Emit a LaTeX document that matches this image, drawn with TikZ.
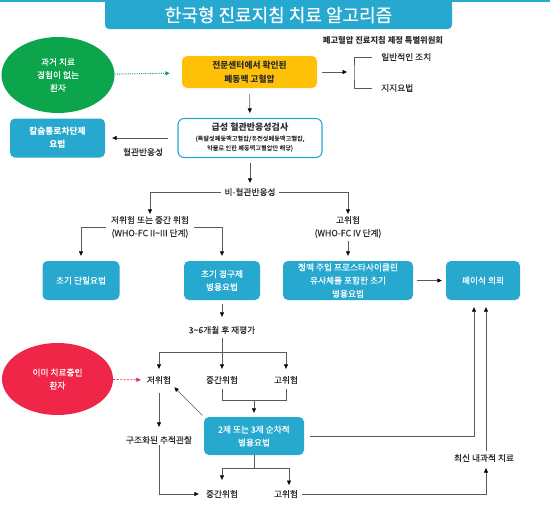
\documentclass[tikz,border=0pt]{standalone}
\usepackage{fontspec}
\setmainfont{Noto Sans CJK KR}[UprightFeatures={FakeBold=0.3}]
\usetikzlibrary{arrows.meta,shapes.geometric}
\definecolor{tealc}{HTML}{27A8CF}
\definecolor{greenc}{HTML}{0CA54B}
\definecolor{redc}{HTML}{EF2648}
\definecolor{yellowc}{HTML}{FFC107}
\definecolor{linec}{HTML}{5A5A5A}
\definecolor{txtc}{HTML}{2E2E2E}
\newcommand{\fs}[2]{\fontsize{#1}{#2}\selectfont}
\begin{document}
\begin{tikzpicture}[x=1pt,y=-1pt,
  font=\fs{8.7}{12}, text=txtc,
  ln/.style={draw=linec, line width=0.6pt},
  arr/.style={ln, -{Triangle[length=4.5pt,width=4pt,color=black]}},
  tbox/.style={fill=tealc, rounded corners=5pt, text=white, align=center, minimum height=39pt, inner sep=1pt, font=\fs{8.7}{13}},
  lbl/.style={align=center, inner sep=1pt, font=\fs{8.7}{13}},
  blob/.style={ellipse, text=white, align=center, inner sep=0pt, font=\fs{8.7}{13}}]

\useasboundingbox (0,0) rectangle (550,506);
\fill[tealc] (0,0) rectangle (550,1.5);
\node[fill=tealc, rounded corners=4pt, minimum width=347pt, minimum height=36pt] (titlebar) at (278.5,11) {};
\node[text=white, font=\fs{18}{20}] (title) at (278.5,15) {한국형 진료지침 치료 알고리즘};
\node[font=\fs{8.3}{9}\bfseries, inner sep=1pt] (committee) at (383,40) {폐고혈압 진료지침 제정 특별위원회};

% top section
\node[blob, fill=greenc, minimum width=113pt, minimum height=76pt] (naive) at (58,75) {과거 치료\\경험이 없는\\환자};
\node[fill=yellowc, rounded corners=5pt, minimum width=135pt, minimum height=32pt, align=center, font=\fs{8.7}{14}\bfseries] (confirmed) at (249.5,72) {전문센터에서 확인된\\폐동맥 고혈압};
\draw[draw=greenc, line width=1pt, dash pattern=on 1pt off 1.2pt, -{Triangle[length=4.5pt,width=4pt,color=greenc]}, shorten >=12pt] (naive) -- (confirmed);

\coordinate (brk) at (354,72);
\node[lbl, anchor=west] (general) at (380,57) {일반적인 조치};
\node[lbl, anchor=west] (support) at (380,88) {지지요법};
\draw[arr, shorten <=5pt, shorten >=7pt] (confirmed) -- (brk);
\draw[ln] ([xshift=-8pt]general.west) -| (brk) |- ([xshift=-8pt]support.west);

\node[draw=tealc, line width=1.1pt, fill=white, rounded corners=6pt, minimum width=144pt, minimum height=39pt] (vrtest) at (250,138) {};
\node[font=\fs{9}{12}\bfseries, inner sep=0pt] (vrtitle) at (250,127) {급성 혈관반응성검사};
\node[font=\fs{6.2}{9.5}, align=center, inner sep=0pt] (vrnote) at (250,143.5) {(특발성폐동맥고혈압/유전성폐동맥고혈압,\\약물로 인한 폐동맥고혈압만 해당)};
\draw[arr, shorten <=6pt, shorten >=5pt] (confirmed) -- (vrtest);

\node[tbox, minimum width=95pt, font=\fs{8.7}{13}\bfseries] (ccb) at (57.5,138) {칼슘통로차단제\\요법};
\draw[arr, shorten <=9pt, shorten >=7pt] (vrtest) -- (ccb);
\node[lbl] (vrpos) at (143,152) {혈관반응성};

% non-responders
\node[lbl, inner xsep=3pt] (nonvr) at (250,192) {비-혈관반응성};
\draw[arr, shorten <=5pt, shorten >=4pt] (vrtest) -- (nonvr);
\node[lbl, inner xsep=5pt] (lowmid) at (150,227) {저위험 또는 중간 위험\\(WHO-FC II\textasciitilde III 단계)};
\node[lbl] (high) at (348,227) {고위험\\(WHO-FC IV 단계)};
\draw[arr, shorten >=1pt] (nonvr.west) -| (lowmid);
\draw[arr, shorten >=1pt] (nonvr.east) -| (high);

\node[tbox, minimum width=77pt] (mono) at (81,280.5) {초기 단일요법};
\node[tbox, minimum width=76pt] (oral) at (222,280.5) {초기 경구제\\병용요법};
\node[tbox, minimum width=130pt, inner sep=0pt, font=\fs{8.7}{13.2}] (iv) at (348,280.5) {정맥 주입 프로스타사이클린\\유사체를 포함한 초기\\병용요법};
\node[tbox, minimum width=74pt] (lung) at (483,280.5) {폐이식 의뢰};
\draw[arr, shorten >=5pt] (lowmid.west) -| (mono);
\draw[arr, shorten >=5pt] (lowmid.east) -| (oral);
\draw[arr, shorten <=2pt, shorten >=5pt] (high) -- (iv);
\draw[arr, shorten <=4pt, shorten >=4pt] (iv) -- (lung);

% reassessment
\node[lbl] (reeval) at (222,330) {3\textasciitilde 6개월 후 재평가};
\draw[arr, shorten <=4pt, shorten >=8pt] (oral) -- (reeval);
\coordinate (split) at (222,352);
\node[lbl] (low1) at (159,380) {저위험};
\node[lbl] (mid1) at (222,380) {중간위험};
\node[lbl] (high1) at (286,380) {고위험};
\draw[arr, shorten <=3pt, shorten >=6pt] (reeval) -- (mid1);
\draw[arr, shorten >=6pt] (split) -| (low1);
\draw[arr, shorten >=6pt] (split) -| (high1);

\node[blob, fill=redc, minimum width=111pt, minimum height=72pt] (treated) at (57.5,379) {이미 치료중인\\환자};
\draw[draw=redc, line width=0.7pt, dash pattern=on 2pt off 1.5pt, -{Triangle[length=4.5pt,width=4pt,color=redc]}, shorten >=5pt] (treated) -- (low1);

\node[tbox, minimum width=100pt, minimum height=38pt] (combo) at (254,436) {2제 또는 3제 순차적\\병용요법};
\coordinate (join) at (254,400);
\draw[ln, shorten <=4pt] (mid1.south) |- (join);
\draw[ln, shorten <=4pt] (high1.south) |- (join);
\draw[arr, shorten >=4pt] (join) -- (combo);
\draw[arr, shorten <=2pt, shorten >=3pt] (combo.north west) -- (low1.south east);

\node[lbl] (follow) at (159,440) {구조화된 추적관찰};
\draw[arr, shorten <=8pt, shorten >=8pt] (low1) -- (follow);

\node[lbl] (mid2) at (222,494) {중간위험};
\node[lbl] (high2) at (286,494) {고위험};
\node[lbl] (latest) at (484,458) {최신 내과적 치료};
\draw[arr, shorten >=6pt] (follow) |- (mid2);
\coordinate (split2) at (254,468);
\draw[ln] (combo) -- (split2);
\draw[arr, shorten >=9pt] (split2) -| (mid2);
\draw[arr, shorten >=9pt] (split2) -| ([xshift=3pt]high2.center);

\draw[arr, shorten <=6pt, shorten >=7pt] (combo.east) -| ([xshift=-9pt]lung.south);
\draw[arr, shorten <=3pt, shorten >=5pt] (high2.east) -| ([xshift=2pt]latest.south);
\draw[arr, shorten <=2pt, shorten >=7pt] ([xshift=2pt]latest.north) -- ([xshift=3pt]lung.south);
\end{tikzpicture}
\end{document}
